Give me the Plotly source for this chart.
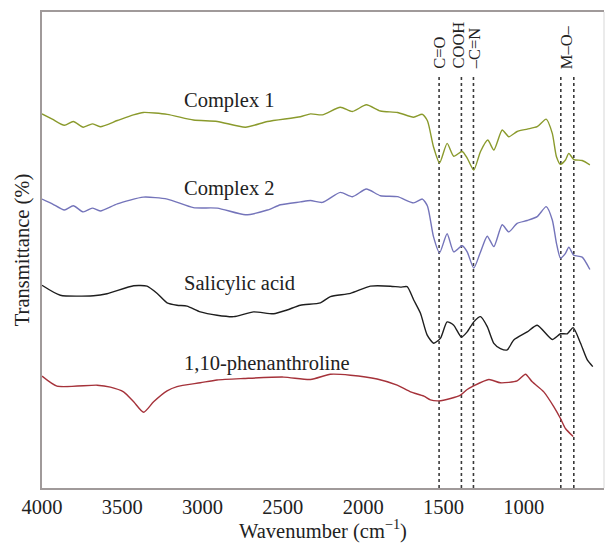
import plotly.graph_objects as go

# Wavenumber (cm-1) and relative transmittance (arbitrary offset units)
complex1_wn = [4000, 3936, 3861, 3805, 3743, 3687, 3637, 3531, 3431, 3369, 3220, 3057, 2908, 2733, 2596,
               2391, 2328, 2254, 2142, 2067, 1980, 1892, 1786, 1686, 1631, 1599, 1562, 1524, 1477, 1436,
               1383, 1352, 1311, 1269, 1224, 1186, 1134, 1093, 1041, 978, 916, 860, 822, 796, 771, 740,
               719, 688, 636, 588]
complex1_t = [78.6, 77.5, 76.2, 77.0, 75.8, 76.5, 75.9, 77.2, 78.4, 78.9, 78.5, 77.3, 77.0, 75.8, 77.0,
              78.0, 78.6, 78.4, 80.0, 79.1, 80.5, 79.2, 78.9, 77.9, 78.5, 77.1, 71.7, 68.3, 72.4, 69.7,
              70.7, 69.3, 66.8, 70.7, 73.1, 71.0, 75.2, 73.8, 74.9, 75.4, 75.9, 77.5, 74.5, 69.6, 68.0, 68.9,
              70.3, 69.0, 68.8, 67.9]

complex2_wn = [4000, 3936, 3861, 3805, 3743, 3687, 3637, 3531, 3369, 3220, 3057, 2908, 2733, 2596, 2515,
               2391, 2328, 2254, 2142, 2067, 1980, 1892, 1786, 1686, 1631, 1599, 1562, 1524, 1477, 1436,
               1383, 1352, 1311, 1269, 1227, 1186, 1134, 1093, 1041, 978, 916, 860, 822, 796, 771, 740,
               719, 688, 636, 588]
complex2_t = [60.7, 59.7, 58.4, 59.3, 58.0, 58.8, 58.2, 59.7, 61.1, 60.7, 58.9, 58.8, 57.4, 58.4, 59.5,
              60.1, 60.4, 60.0, 62.1, 61.2, 62.8, 61.4, 61.2, 59.9, 60.7, 59.2, 52.8, 49.4, 53.4, 49.6,
              50.9, 49.6, 46.2, 49.6, 52.9, 50.7, 55.3, 53.8, 55.6, 56.2, 57.0, 59.1, 56.3, 51.4, 48.3, 49.3,
              50.6, 48.9, 48.5, 45.9]

salicylic_wn = [4000, 3886, 3679, 3595, 3429, 3346, 3284, 3221, 3159, 3097, 3014, 2910, 2806, 2682, 2557,
                2474, 2391, 2266, 2204, 2079, 1955, 1830, 1768, 1726, 1685, 1643, 1601, 1560, 1518, 1477,
                1436, 1388, 1352, 1311, 1269, 1227, 1186, 1145, 1103, 1062, 978, 916, 822, 771, 729, 692,
                646, 604, 570]
salicylic_t = [42.6, 40.5, 40.4, 40.8, 42.5, 42.4, 40.9, 38.9, 38.4, 38.2, 37.0, 36.3, 36.0, 37.0, 36.6,
               37.4, 38.4, 38.9, 40.2, 40.9, 42.4, 42.4, 42.2, 42.3, 39.5, 36.7, 32.1, 30.4, 31.5, 34.9,
               34.2, 31.7, 32.8, 34.9, 36.0, 33.9, 30.4, 29.3, 29.0, 31.1, 32.8, 34.2, 31.2, 32.4, 32.4, 33.7,
               30.4, 26.9, 25.5]

phen_wn = [4000, 3907, 3657, 3574, 3492, 3429, 3367, 3305, 3221, 3159, 3014, 2910, 2744, 2495, 2328, 2204,
           2079, 1913, 1788, 1705, 1622, 1581, 1529, 1456, 1394, 1352, 1315, 1217, 1145, 1041, 989, 947,
           875, 813, 771, 740, 692]
phen_t = [23.5, 21.4, 21.6, 21.2, 20.2, 18.1, 15.9, 18.1, 20.4, 21.3, 22.1, 22.7, 23.0, 23.3, 22.8, 23.9,
          23.7, 22.9, 21.6, 20.2, 19.3, 18.5, 18.3, 18.8, 19.5, 20.7, 21.4, 22.8, 22.1, 22.5, 23.9, 22.3,
          20.2, 17.1, 14.6, 12.5, 10.8]

series_names = ["Complex 1", "Complex 2", "Salicylic acid", "1,10-phenanthroline"]
series_colors = ["#8a9a2c", "#7474ba", "#1e1e1e", "#a5323a"]
label_wn = [3130, 3130, 3130, 3130]
label_t = [81.5, 63.0, 42.9, 26.1]

band_wn = [1527, 1388, 1313, 769, 688]
band_top = 86.8
band_labels = ["C=O", "COOH", "–C=N", "M–O–"]
band_label_wn = [1529, 1403, 1308, 735]
band_label_t = 87.6

FONT = "Liberation Serif, Times New Roman, serif"

fig = go.Figure()
for wn, t, name, col in zip([complex1_wn, complex2_wn, salicylic_wn, phen_wn],
                            [complex1_t, complex2_t, salicylic_t, phen_t],
                            series_names, series_colors):
    fig.add_trace(go.Scatter(x=wn, y=t, mode="lines", name=name,
                             line=dict(color=col, width=1.4, shape="spline", smoothing=0.6),
                             showlegend=False, hoverinfo="skip"))

for xv in band_wn:
    fig.add_shape(type="line", xref="x", yref="y", x0=xv, x1=xv, y0=0, y1=band_top,
                  line=dict(color="#3a3a3a", width=1.6, dash="dot"), layer="below")

for txt, xv, yv in zip(series_names, label_wn, label_t):
    fig.add_annotation(x=xv, y=yv, text=txt, showarrow=False, xanchor="left", yanchor="middle",
                       font=dict(family=FONT, size=20.5, color="#222222"))

for txt, xv in zip(band_labels, band_label_wn):
    fig.add_annotation(x=xv, y=band_label_t, text=txt, showarrow=False, textangle=-90,
                       xanchor="center", yanchor="bottom",
                       font=dict(family=FONT, size=16.5, color="#222222"))

# faint right border
fig.add_shape(type="line", xref="paper", yref="paper", x0=1, x1=1, y0=0, y1=1,
              line=dict(color="#e4e4e4", width=1.5))

fig.update_layout(
    width=608, height=543,
    margin=dict(l=42, r=4, t=12, b=55),
    paper_bgcolor="white", plot_bgcolor="white",
    font=dict(family=FONT, size=20, color="#222222"),
)
fig.update_xaxes(range=[4000, 500], tickvals=[4000, 3500, 3000, 2500, 2000, 1500, 1000],
                 ticks="", showgrid=False, zeroline=False,
                 showline=True, linecolor="#a09a9a", linewidth=1.5, mirror=True,
                 title=dict(text="Wavenumber (cm<sup>−1</sup>)", standoff=3,
                            font=dict(family=FONT, size=20.5)),
                 tickfont=dict(family=FONT, size=20.5))
fig.update_yaxes(range=[0, 100], showticklabels=False, ticks="", showgrid=False, zeroline=False,
                 showline=True, linecolor="#a09a9a", linewidth=1.5,
                 title=dict(text="Transmittance (%)", standoff=5, font=dict(family=FONT, size=20.5)))

fig.write_html("out.html")
